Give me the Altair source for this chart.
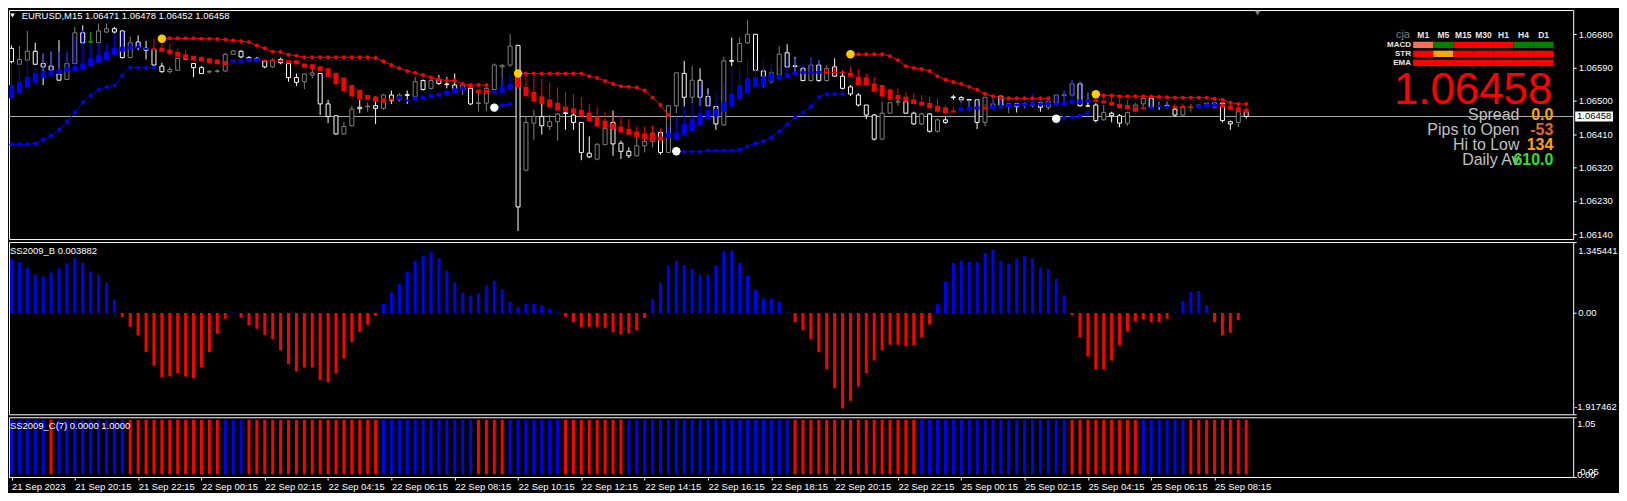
import altair as alt
import pandas as pd
import numpy as np

FONT = "Liberation Sans"
SYMBOL = "EURUSD,M15"

# ---------------- data ----------------
TIME_LABELS = ["21 Sep 2023", "21 Sep 20:15", "21 Sep 22:15", "22 Sep 00:15", "22 Sep 02:15",
               "22 Sep 04:15", "22 Sep 06:15", "22 Sep 08:15", "22 Sep 10:15", "22 Sep 12:15",
               "22 Sep 14:15", "22 Sep 16:15", "22 Sep 18:15", "22 Sep 20:15", "22 Sep 22:15",
               "25 Sep 00:15", "25 Sep 02:15", "25 Sep 04:15", "25 Sep 06:15", "25 Sep 08:15"]
BARS_PER_LABEL = 8
PRICE_TICKS = [1.06140, 1.06230, 1.06320, 1.06410, 1.06500, 1.06590, 1.06680]
PRICE_RANGE = [1.061272, 1.067454]
HIST_MAX = 1.345441
HIST_MIN = -1.917462
C_MAX = 1.05
C_MIN = -0.05

OPEN = [1.06642, 1.06599, 1.06610, 1.06634, 1.06601, 1.06594, 1.06573, 1.06558, 1.06601, 1.06684,
        1.06659, 1.06657, 1.06686, 1.06695, 1.06689, 1.06617, 1.06659, 1.06642, 1.06639, 1.06594,
        1.06579, 1.06583, 1.06612, 1.06601, 1.06590, 1.06578, 1.06580, 1.06581, 1.06626, 1.06634,
        1.06617, 1.06615, 1.06608, 1.06592, 1.06612, 1.06601, 1.06563, 1.06552, 1.06570, 1.06574,
        1.06492, 1.06460, 1.06411, 1.06433, 1.06483, 1.06484, 1.06487, 1.06480, 1.06516, 1.06503,
        1.06517, 1.06512, 1.06555, 1.06534, 1.06558, 1.06546, 1.06543, 1.06531, 1.06534, 1.06493,
        1.06494, 1.06531, 1.06592, 1.06597, 1.06650, 1.06313, 1.06440, 1.06458, 1.06431, 1.06444,
        1.06468, 1.06462, 1.06442, 1.06359, 1.06343, 1.06382, 1.06442, 1.06386, 1.06364, 1.06352,
        1.06379, 1.06391, 1.06415, 1.06361, 1.06487, 1.06574, 1.06510, 1.06556, 1.06512, 1.06485,
        1.06435, 1.06609, 1.06606, 1.06657, 1.06680, 1.06581, 1.06552, 1.06570, 1.06630, 1.06595,
        1.06588, 1.06555, 1.06597, 1.06555, 1.06592, 1.06567, 1.06538, 1.06516, 1.06489, 1.06462,
        1.06397, 1.06467, 1.06497, 1.06498, 1.06467, 1.06438, 1.06465, 1.06418, 1.06449, 1.06511,
        1.06509, 1.06504, 1.06503, 1.06442, 1.06485, 1.06513, 1.06485, 1.06492, 1.06491, 1.06487,
        1.06495, 1.06483, 1.06495, 1.06515, 1.06516, 1.06546, 1.06487, 1.06489, 1.06449, 1.06467,
        1.06460, 1.06440, 1.06476, 1.06492, 1.06507, 1.06487, 1.06488, 1.06478, 1.06462, 1.06483,
        1.06483, 1.06485, 1.06483, 1.06494, 1.06444, 1.06442, 1.06471]
HIGH = [1.06650, 1.06648, 1.06689, 1.06657, 1.06628, 1.06633, 1.06664, 1.06633, 1.06700, 1.06704,
        1.06686, 1.06709, 1.06709, 1.06700, 1.06691, 1.06673, 1.06677, 1.06662, 1.06639, 1.06603,
        1.06592, 1.06617, 1.06624, 1.06601, 1.06594, 1.06583, 1.06585, 1.06630, 1.06637, 1.06637,
        1.06621, 1.06619, 1.06610, 1.06615, 1.06617, 1.06603, 1.06574, 1.06573, 1.06592, 1.06574,
        1.06503, 1.06460, 1.06444, 1.06487, 1.06503, 1.06495, 1.06512, 1.06519, 1.06528, 1.06521,
        1.06528, 1.06565, 1.06558, 1.06561, 1.06570, 1.06565, 1.06574, 1.06552, 1.06537, 1.06530,
        1.06538, 1.06601, 1.06599, 1.06680, 1.06650, 1.06458, 1.06476, 1.06492, 1.06462, 1.06467,
        1.06471, 1.06467, 1.06442, 1.06404, 1.06386, 1.06444, 1.06474, 1.06393, 1.06375, 1.06404,
        1.06411, 1.06431, 1.06418, 1.06489, 1.06576, 1.06608, 1.06594, 1.06588, 1.06534, 1.06487,
        1.06619, 1.06671, 1.06671, 1.06718, 1.06680, 1.06583, 1.06583, 1.06648, 1.06653, 1.06619,
        1.06592, 1.06617, 1.06610, 1.06597, 1.06615, 1.06581, 1.06543, 1.06521, 1.06489, 1.06465,
        1.06498, 1.06498, 1.06507, 1.06498, 1.06471, 1.06469, 1.06467, 1.06453, 1.06456, 1.06516,
        1.06513, 1.06504, 1.06503, 1.06510, 1.06507, 1.06513, 1.06495, 1.06495, 1.06498, 1.06519,
        1.06498, 1.06503, 1.06516, 1.06528, 1.06556, 1.06552, 1.06522, 1.06494, 1.06489, 1.06471,
        1.06465, 1.06471, 1.06495, 1.06512, 1.06512, 1.06498, 1.06498, 1.06483, 1.06487, 1.06492,
        1.06492, 1.06495, 1.06498, 1.06495, 1.06447, 1.06476, 1.06478]
LOW = [1.06601, 1.06597, 1.06608, 1.06597, 1.06543, 1.06581, 1.06555, 1.06556, 1.06599, 1.06655,
       1.06657, 1.06655, 1.06684, 1.06682, 1.06615, 1.06615, 1.06637, 1.06612, 1.06594, 1.06576,
       1.06574, 1.06581, 1.06610, 1.06564, 1.06573, 1.06574, 1.06576, 1.06579, 1.06624, 1.06615,
       1.06606, 1.06606, 1.06588, 1.06590, 1.06599, 1.06552, 1.06540, 1.06532, 1.06561, 1.06462,
       1.06440, 1.06409, 1.06409, 1.06431, 1.06467, 1.06471, 1.06438, 1.06476, 1.06492, 1.06498,
       1.06492, 1.06507, 1.06528, 1.06531, 1.06543, 1.06534, 1.06528, 1.06516, 1.06489, 1.06471,
       1.06473, 1.06530, 1.06534, 1.06592, 1.06149, 1.06310, 1.06395, 1.06409, 1.06422, 1.06393,
       1.06422, 1.06422, 1.06340, 1.06346, 1.06340, 1.06382, 1.06352, 1.06343, 1.06346, 1.06350,
       1.06361, 1.06375, 1.06355, 1.06359, 1.06467, 1.06485, 1.06494, 1.06487, 1.06485, 1.06422,
       1.06433, 1.06594, 1.06606, 1.06655, 1.06581, 1.06537, 1.06547, 1.06567, 1.06590, 1.06579,
       1.06555, 1.06552, 1.06552, 1.06552, 1.06565, 1.06531, 1.06513, 1.06485, 1.06451, 1.06393,
       1.06395, 1.06465, 1.06487, 1.06465, 1.06435, 1.06435, 1.06415, 1.06415, 1.06438, 1.06503,
       1.06495, 1.06476, 1.06424, 1.06431, 1.06480, 1.06485, 1.06467, 1.06469, 1.06480, 1.06483,
       1.06471, 1.06476, 1.06487, 1.06495, 1.06512, 1.06485, 1.06483, 1.06442, 1.06447, 1.06442,
       1.06429, 1.06433, 1.06471, 1.06483, 1.06480, 1.06476, 1.06480, 1.06458, 1.06460, 1.06471,
       1.06480, 1.06483, 1.06480, 1.06442, 1.06422, 1.06429, 1.06452]
CLOSE = [1.06606, 1.06612, 1.06634, 1.06599, 1.06592, 1.06583, 1.06556, 1.06601, 1.06684, 1.06657,
         1.06659, 1.06689, 1.06695, 1.06686, 1.06617, 1.06657, 1.06644, 1.06637, 1.06597, 1.06579,
         1.06585, 1.06615, 1.06619, 1.06590, 1.06574, 1.06580, 1.06581, 1.06626, 1.06635, 1.06619,
         1.06612, 1.06610, 1.06592, 1.06610, 1.06603, 1.06563, 1.06550, 1.06573, 1.06576, 1.06492,
         1.06458, 1.06411, 1.06431, 1.06478, 1.06479, 1.06486, 1.06480, 1.06516, 1.06501, 1.06516,
         1.06515, 1.06552, 1.06531, 1.06555, 1.06547, 1.06544, 1.06531, 1.06543, 1.06492, 1.06495,
         1.06534, 1.06597, 1.06596, 1.06648, 1.06214, 1.06442, 1.06458, 1.06433, 1.06444, 1.06465,
         1.06466, 1.06442, 1.06361, 1.06349, 1.06383, 1.06426, 1.06384, 1.06364, 1.06352, 1.06379,
         1.06391, 1.06413, 1.06361, 1.06487, 1.06576, 1.06510, 1.06556, 1.06510, 1.06487, 1.06438,
         1.06608, 1.06607, 1.06655, 1.06680, 1.06583, 1.06565, 1.06576, 1.06626, 1.06592, 1.06593,
         1.06555, 1.06597, 1.06555, 1.06588, 1.06567, 1.06534, 1.06519, 1.06489, 1.06462, 1.06397,
         1.06467, 1.06495, 1.06499, 1.06467, 1.06438, 1.06465, 1.06418, 1.06449, 1.06442, 1.06509,
         1.06503, 1.06502, 1.06442, 1.06510, 1.06492, 1.06487, 1.06492, 1.06485, 1.06493, 1.06494,
         1.06483, 1.06498, 1.06516, 1.06517, 1.06546, 1.06487, 1.06486, 1.06447, 1.06469, 1.06460,
         1.06440, 1.06469, 1.06489, 1.06507, 1.06483, 1.06486, 1.06485, 1.06462, 1.06483, 1.06483,
         1.06489, 1.06494, 1.06495, 1.06447, 1.06438, 1.06471, 1.06458]

HA_OPEN = [1.06507, 1.06522, 1.06537, 1.06549, 1.06561, 1.06567, 1.06573, 1.06579, 1.06581, 1.06585,
           1.06594, 1.06603, 1.06610, 1.06624, 1.06633, 1.06639, 1.06642, 1.06638, 1.06642, 1.06644,
           1.06639, 1.06633, 1.06626, 1.06622, 1.06619, 1.06615, 1.06612, 1.06608, 1.06603, 1.06603,
           1.06606, 1.06606, 1.06612, 1.06612, 1.06610, 1.06610, 1.06610, 1.06601, 1.06599, 1.06594,
           1.06588, 1.06576, 1.06563, 1.06543, 1.06530, 1.06516, 1.06512, 1.06507, 1.06507, 1.06503,
           1.06498, 1.06501, 1.06504, 1.06507, 1.06512, 1.06516, 1.06521, 1.06528, 1.06543, 1.06531,
           1.06530, 1.06521, 1.06522, 1.06530, 1.06570, 1.06538, 1.06525, 1.06513, 1.06504, 1.06495,
           1.06485, 1.06480, 1.06476, 1.06469, 1.06458, 1.06447, 1.06438, 1.06431, 1.06425, 1.06418,
           1.06413, 1.06411, 1.06404, 1.06400, 1.06397, 1.06406, 1.06418, 1.06435, 1.06451, 1.06458,
           1.06471, 1.06485, 1.06504, 1.06521, 1.06538, 1.06538, 1.06552, 1.06558, 1.06561, 1.06570,
           1.06573, 1.06573, 1.06573, 1.06579, 1.06579, 1.06579, 1.06576, 1.06565, 1.06564, 1.06547,
           1.06543, 1.06531, 1.06516, 1.06512, 1.06504, 1.06498, 1.06495, 1.06487, 1.06483, 1.06474,
           1.06472, 1.06474, 1.06476, 1.06483, 1.06478, 1.06480, 1.06483, 1.06485, 1.06485, 1.06487,
           1.06487, 1.06489, 1.06489, 1.06489, 1.06492, 1.06492, 1.06495, 1.06504, 1.06501, 1.06498,
           1.06492, 1.06489, 1.06483, 1.06483, 1.06478, 1.06483, 1.06480, 1.06487, 1.06487, 1.06485,
           1.06480, 1.06483, 1.06483, 1.06492, 1.06487, 1.06483, 1.06478]
HA_CLOSE = [1.06543, 1.06552, 1.06565, 1.06576, 1.06581, 1.06583, 1.06586, 1.06590, 1.06594, 1.06601,
            1.06615, 1.06624, 1.06633, 1.06643, 1.06646, 1.06648, 1.06648, 1.06643, 1.06637, 1.06633,
            1.06626, 1.06619, 1.06613, 1.06609, 1.06607, 1.06601, 1.06599, 1.06597, 1.06612, 1.06612,
            1.06615, 1.06615, 1.06607, 1.06607, 1.06606, 1.06601, 1.06599, 1.06590, 1.06586, 1.06581,
            1.06565, 1.06545, 1.06527, 1.06512, 1.06504, 1.06503, 1.06498, 1.06495, 1.06501, 1.06512,
            1.06504, 1.06512, 1.06514, 1.06518, 1.06522, 1.06528, 1.06534, 1.06537, 1.06534, 1.06522,
            1.06521, 1.06528, 1.06538, 1.06547, 1.06537, 1.06513, 1.06498, 1.06492, 1.06483, 1.06474,
            1.06471, 1.06467, 1.06458, 1.06446, 1.06431, 1.06426, 1.06424, 1.06415, 1.06409, 1.06402,
            1.06397, 1.06393, 1.06393, 1.06413, 1.06415, 1.06438, 1.06451, 1.06467, 1.06476, 1.06478,
            1.06498, 1.06519, 1.06543, 1.06561, 1.06564, 1.06567, 1.06574, 1.06570, 1.06576, 1.06579,
            1.06581, 1.06579, 1.06581, 1.06574, 1.06574, 1.06574, 1.06565, 1.06543, 1.06543, 1.06525,
            1.06512, 1.06503, 1.06503, 1.06498, 1.06492, 1.06487, 1.06480, 1.06471, 1.06467, 1.06469,
            1.06483, 1.06485, 1.06485, 1.06478, 1.06487, 1.06489, 1.06492, 1.06492, 1.06494, 1.06495,
            1.06495, 1.06495, 1.06495, 1.06498, 1.06503, 1.06504, 1.06504, 1.06498, 1.06494, 1.06487,
            1.06480, 1.06478, 1.06471, 1.06478, 1.06485, 1.06489, 1.06487, 1.06480, 1.06480, 1.06480,
            1.06489, 1.06492, 1.06492, 1.06483, 1.06476, 1.06471, 1.06469]
HA_HIGH = [1.06601, 1.06610, 1.06610, 1.06597, 1.06628, 1.06633, 1.06633, 1.06633, 1.06673, 1.06691,
           1.06657, 1.06655, 1.06655, 1.06682, 1.06689, 1.06657, 1.06659, 1.06643, 1.06668, 1.06655,
           1.06653, 1.06642, 1.06639, 1.06622, 1.06619, 1.06615, 1.06612, 1.06608, 1.06612, 1.06612,
           1.06615, 1.06615, 1.06612, 1.06612, 1.06612, 1.06610, 1.06610, 1.06601, 1.06599, 1.06594,
           1.06588, 1.06576, 1.06563, 1.06543, 1.06530, 1.06516, 1.06512, 1.06507, 1.06507, 1.06512,
           1.06504, 1.06512, 1.06514, 1.06518, 1.06522, 1.06528, 1.06534, 1.06552, 1.06543, 1.06531,
           1.06530, 1.06528, 1.06561, 1.06574, 1.06570, 1.06574, 1.06565, 1.06561, 1.06549, 1.06537,
           1.06525, 1.06519, 1.06510, 1.06492, 1.06483, 1.06471, 1.06460, 1.06460, 1.06451, 1.06431,
           1.06431, 1.06433, 1.06426, 1.06431, 1.06458, 1.06485, 1.06494, 1.06547, 1.06519, 1.06521,
           1.06547, 1.06592, 1.06592, 1.06610, 1.06610, 1.06610, 1.06601, 1.06592, 1.06619, 1.06615,
           1.06601, 1.06615, 1.06610, 1.06592, 1.06592, 1.06583, 1.06592, 1.06585, 1.06574, 1.06565,
           1.06543, 1.06534, 1.06534, 1.06525, 1.06522, 1.06516, 1.06512, 1.06507, 1.06489, 1.06485,
           1.06503, 1.06503, 1.06503, 1.06492, 1.06507, 1.06513, 1.06495, 1.06495, 1.06498, 1.06519,
           1.06498, 1.06503, 1.06516, 1.06528, 1.06556, 1.06552, 1.06522, 1.06516, 1.06516, 1.06512,
           1.06507, 1.06503, 1.06495, 1.06492, 1.06507, 1.06498, 1.06498, 1.06492, 1.06492, 1.06492,
           1.06492, 1.06495, 1.06498, 1.06495, 1.06492, 1.06489, 1.06485]

STOP = [1.06383, 1.06383, 1.06383, 1.06385, 1.06395, 1.06407, 1.06422, 1.06444, 1.06469, 1.06496,
        1.06515, 1.06530, 1.06538, 1.06542, 1.06569, 1.06590, 1.06590, 1.06590, 1.06590, 1.06668,
        1.06669, 1.06669, 1.06669, 1.06669, 1.06668, 1.06668, 1.06667, 1.06666, 1.06663, 1.06661,
        1.06659, 1.06650, 1.06642, 1.06633, 1.06632, 1.06625, 1.06622, 1.06618, 1.06618, 1.06618,
        1.06618, 1.06618, 1.06618, 1.06618, 1.06618, 1.06618, 1.06616, 1.06607, 1.06597, 1.06588,
        1.06581, 1.06576, 1.06570, 1.06563, 1.06558, 1.06555, 1.06555, 1.06546, 1.06543, 1.06543,
        1.06543, 1.06482, 1.06489, 1.06492, 1.06574, 1.06574, 1.06574, 1.06574, 1.06574, 1.06574,
        1.06574, 1.06574, 1.06574, 1.06567, 1.06562, 1.06554, 1.06546, 1.06540, 1.06538, 1.06536,
        1.06528, 1.06509, 1.06489, 1.06462, 1.06364, 1.06363, 1.06363, 1.06363, 1.06366, 1.06366,
        1.06366, 1.06366, 1.06368, 1.06377, 1.06386, 1.06392, 1.06402, 1.06418, 1.06437, 1.06456,
        1.06469, 1.06485, 1.06511, 1.06519, 1.06519, 1.06519, 1.06626, 1.06626, 1.06626, 1.06626,
        1.06626, 1.06621, 1.06610, 1.06594, 1.06589, 1.06586, 1.06581, 1.06567, 1.06558, 1.06551,
        1.06546, 1.06538, 1.06530, 1.06519, 1.06513, 1.06509, 1.06507, 1.06507, 1.06507, 1.06507,
        1.06507, 1.06507, 1.06452, 1.06455, 1.06457, 1.06460, 1.06468, 1.06518, 1.06515, 1.06515,
        1.06513, 1.06513, 1.06513, 1.06513, 1.06512, 1.06511, 1.06510, 1.06509, 1.06509, 1.06509,
        1.06509, 1.06509, 1.06506, 1.06503, 1.06495, 1.06492, 1.06492]
# trailing-stop side per bar, as runs: (side, number of bars)
STOP_RUNS = [("B", 19), ("R", 42), ("B", 3), ("R", 20), ("B", 22), ("R", 26), ("B", 5), ("R", 20)]

HIST = [1.024, 0.961, 0.865, 0.725, 0.693, 0.770, 0.846, 0.941, 1.037, 0.948,
        0.789, 0.719, 0.579, 0.248, -0.070, -0.261, -0.426, -0.738, -0.999, -1.209,
        -1.196, -1.139, -1.202, -1.234, -1.024, -0.738, -0.394, -0.108, 0.010, -0.089,
        -0.235, -0.299, -0.413, -0.490, -0.706, -0.967, -1.101, -1.031, -1.031, -1.272,
        -1.310, -1.145, -0.859, -0.547, -0.356, -0.223, -0.057, 0.178, 0.388, 0.547,
        0.789, 0.992, 1.088, 1.151, 1.037, 0.802, 0.579, 0.388, 0.324, 0.375,
        0.528, 0.611, 0.452, 0.216, 0.115, 0.178, 0.178, 0.146, 0.083, 0.013,
        -0.070, -0.172, -0.261, -0.261, -0.261, -0.280, -0.363, -0.407, -0.388, -0.331,
        -0.095, 0.261, 0.573, 0.897, 0.992, 0.910, 0.840, 0.725, 0.725, 0.897,
        1.164, 1.183, 0.948, 0.706, 0.439, 0.274, 0.274, 0.210, 0.013, -0.172,
        -0.324, -0.490, -0.744, -1.062, -1.425, -1.807, -1.660, -1.393, -1.139, -0.897,
        -0.706, -0.598, -0.598, -0.630, -0.611, -0.452, -0.216, 0.165, 0.592, 0.948,
        0.992, 0.973, 0.973, 1.139, 1.202, 0.992, 0.935, 1.024, 1.088, 1.037,
        0.865, 0.833, 0.643, 0.337, -0.038, -0.452, -0.821, -1.062, -1.062, -0.897,
        -0.604, -0.344, -0.153, -0.121, -0.172, -0.172, -0.108, 0.010, 0.229, 0.401,
        0.420, 0.146, -0.172, -0.420, -0.375, -0.134, 0.005]
# SS2009_C colour per bar, as runs
TREND_RUNS = [("B", 5), ("R", 1), ("B", 9), ("R", 12), ("B", 3), ("R", 17), ("B", 12), ("R", 4),
              ("B", 7), ("R", 8), ("B", 21), ("R", 16), ("B", 19), ("R", 9), ("B", 6), ("R", 8)]

INFO_TF = ["M1", "M5", "M15", "M30", "H1", "H4", "D1"]
INFO_ROWS = ["MACD", "STR", "EMA"]
INFO_COLORS = {
    "MACD": ["#fa6e5a", "#008000", "#ff0000", "#ff0000", "#ff0000", "#008000", "#008000"],
    "STR": ["#ff0000", "#ffa500", "#ff0000", "#ff0000", "#ff0000", "#ff0000", "#ff0000"],
    "EMA": ["#ff0000"] * 7,
}
STATS = [("Spread", "0.0", "#ffa500"), ("Pips to Open", "-53", "#e8642a"),
         ("Hi to Low", "134", "#ffa500"), ("Daily Av", "610.0", "#2fe02f")]

# ---------------- tables ----------------
n = len(OPEN)
for arr in (HIGH, LOW, CLOSE, HA_OPEN, HA_CLOSE, HA_HIGH, STOP, HIST):
    assert len(arr) == n, len(arr)
STOP_SIDE = "".join(s * k for s, k in STOP_RUNS)
TREND = "".join(s * k for s, k in TREND_RUNS)
assert len(STOP_SIDE) == n and len(TREND) == n

BLUE, RED, WHITE, GRAY, GREEN = "#0000ff", "#ff0000", "#ffffff", "#808080", "#00c000"

df = pd.DataFrame({"idx": np.arange(n), "o": OPEN, "h": HIGH, "l": LOW, "c": CLOSE,
                   "ha_o": HA_OPEN, "ha_c": HA_CLOSE, "ha_h": HA_HIGH, "stop": STOP})
df["btop"] = df[["o", "c"]].max(axis=1)
df["bbot"] = df[["o", "c"]].min(axis=1)
df["ccol"] = np.where(df.o > df.c, WHITE, np.where(df.o < df.c, GRAY, GREEN))
df["hatop"] = df[["ha_o", "ha_c"]].max(axis=1)
df["habot"] = df[["ha_o", "ha_c"]].min(axis=1)
df["hacol"] = np.where(df.ha_c >= df.ha_o, BLUE, RED)
df["side"] = list(STOP_SIDE)
newseg = df.side != df.side.shift()
df["seg"] = newseg.cumsum()
df["scol"] = np.where(df.side == "B", BLUE, RED)
starts = df[newseg & (df.idx > 0)].copy()
starts["startcol"] = np.where(starts.side == "R", "#ffcc00", WHITE)

hdf = pd.DataFrame({"idx": np.arange(n), "v": HIST, "z": 0.0})
hdf["col"] = np.where(hdf.v >= 0, BLUE, RED)
cdf = pd.DataFrame({"idx": np.arange(n), "one": 1.0, "z": 0.0,
                    "col": [BLUE if ch == "B" else RED for ch in TREND]})
cur_df = pd.DataFrame({"p": [CLOSE[-1]], "t": [f"{CLOSE[-1]:.5f}"]})
tdf = pd.DataFrame([{"tf": tf, "row": r, "col": INFO_COLORS[r][k]}
                    for r in INFO_ROWS for k, tf in enumerate(INFO_TF)])

# ---------------- layout ----------------
W = 1571
H1, H2, H3 = 230, 173, 60
XS = alt.Scale(domain=[0.3125, 0.3125 + W / 8], nice=False, zero=False)
YS1 = alt.Scale(domain=PRICE_RANGE, nice=False, zero=False)
YAX1 = alt.Axis(orient="right", values=PRICE_TICKS, format=".5f", title=None, grid=False,
                domain=False, tickSize=3, labelPadding=2)


def xe():
    return alt.X("idx:Q", scale=XS, axis=None)


def y1(f):
    return alt.Y(f"{f}:Q", scale=YS1, axis=YAX1)


def note(text, x, y, **kw):
    kw.setdefault("font", FONT)
    return alt.Chart(pd.DataFrame({"t": [text]})).mark_text(**kw).encode(
        text="t:N", x=alt.value(x), y=alt.value(y))


c = alt.Chart(df)
price_line = alt.Chart(cur_df).mark_rule(color="#a8a8a8", strokeWidth=1).encode(y=y1("p"))
wick_up = c.mark_rule(strokeWidth=1, clip=True).encode(
    x=xe(), y=y1("h"), y2="btop", color=alt.Color("ccol:N", scale=None))
wick_dn = c.mark_rule(strokeWidth=1, clip=True).encode(
    x=xe(), y=y1("bbot"), y2="l", color=alt.Color("ccol:N", scale=None))
body = c.mark_bar(size=4, fill="black", strokeWidth=1, clip=True).encode(
    x=xe(), y=y1("btop"), y2="bbot", stroke=alt.Stroke("ccol:N", scale=None))
ha_wick = c.mark_rule(strokeWidth=1, clip=True).encode(
    x=xe(), y=y1("ha_h"), y2="hatop", color=alt.Color("hacol:N", scale=None))
ha_body = c.mark_bar(size=5, clip=True).encode(
    x=xe(), y=y1("hatop"), y2="habot", color=alt.Color("hacol:N", scale=None))
stop_line = c.mark_line(strokeWidth=1, clip=True).encode(
    x=xe(), y=y1("stop"), detail="seg:N", color=alt.Color("scol:N", scale=None))
stop_dots = c.mark_circle(size=16, opacity=1, clip=True).encode(
    x=xe(), y=y1("stop"), color=alt.Color("scol:N", scale=None))
start_dots = alt.Chart(starts).mark_circle(size=72, opacity=1, clip=True).encode(
    x=xe(), y=y1("stop"), color=alt.Color("startcol:N", scale=None))

BOX = "M-1,-0.263L1,-0.263L1,0.263L-1,0.263Z"
cur_box = alt.Chart(cur_df).mark_point(shape=BOX, size=1444, filled=True, color="white",
                                       opacity=1, strokeWidth=0).encode(x=alt.value(W + 21), y=y1("p"))
cur_txt = alt.Chart(cur_df).mark_text(color="black", fontSize=9.5, font=FONT).encode(
    x=alt.value(W + 21), y=y1("p"), text="t:N")

one = pd.DataFrame({"a": [0]})
tri = alt.Chart(one).mark_point(shape="triangle-down", filled=True, color="white", size=22,
                                opacity=1).encode(x=alt.value(3.5), y=alt.value(5.5))
shift_mark = alt.Chart(one).mark_point(shape="triangle-down", filled=True, color="#808080",
                                       size=30, opacity=1).encode(x=alt.value(1254), y=alt.value(3))
title = note(f"{SYMBOL}  {OPEN[-1]:.5f} {HIGH[-1]:.5f} {LOW[-1]:.5f} {CLOSE[-1]:.5f}",
             12.7, 5.8, align="left", baseline="middle", color="white", fontSize=9.5)

info = [note("cja", 1407, 25, align="right", baseline="middle", color="#808080", fontSize=11),
        note(f"{CLOSE[-1]:.5f}", 1550, 94.5, align="right", baseline="alphabetic",
             color="#ff0000", fontSize=44)]
for k, (lab, val, col) in enumerate(STATS):
    yy = [110.3, 125.3, 140.3, 155.3][k]
    info.append(note(lab, 1517, yy, align="right", baseline="alphabetic", color="#c0c0c0", fontSize=16))
    info.append(note(val, 1551, yy, align="right", baseline="alphabetic", color=col,
                     fontSize=16, fontWeight="bold"))

core = alt.layer(price_line, wick_up, wick_dn, body, ha_wick, ha_body, stop_line, stop_dots,
                 start_dots, cur_box, cur_txt, tri, shift_mark, title, *info)

TX = alt.Scale(domain=INFO_TF, range=[1410.3, 1551.3], paddingInner=0, paddingOuter=0)
TY = alt.Scale(domain=INFO_ROWS, range=[31.8, 56.2], paddingInner=0.29, paddingOuter=0)
cells = alt.Chart(tdf).mark_rect().encode(
    x=alt.X("tf:O", scale=TX, axis=None), y=alt.Y("row:O", scale=TY, axis=None),
    color=alt.Color("col:N", scale=None))
tf_lbl = alt.Chart(pd.DataFrame({"tf": INFO_TF})).mark_text(
    fontSize=8.5, fontWeight="bold", color="#e8e8e8", font=FONT).encode(
    x=alt.X("tf:O", scale=TX, axis=None), y=alt.value(25), text="tf:N")
row_lbl = alt.Chart(pd.DataFrame({"row": INFO_ROWS})).mark_text(
    fontSize=8, fontWeight="bold", color="#e8e8e8", align="right", font=FONT).encode(
    x=alt.value(1408), y=alt.Y("row:O", scale=TY, axis=None), text="row:N")
table = alt.layer(cells, tf_lbl, row_lbl)

main = alt.layer(core, table).resolve_scale(x="independent", y="independent").properties(
    width=W, height=H1)

# ---------------- SS2009_B histogram ----------------
YS2 = alt.Scale(domain=[HIST_MIN, HIST_MAX], nice=False, zero=False)
YAX2 = alt.Axis(orient="right", values=[HIST_MAX, 0, HIST_MIN], labels=False, tickSize=3,
                title=None, grid=False, domain=False)


def ylab(val, text, scale, axis, x, baseline, dy):
    return alt.Chart(pd.DataFrame({"v": [val], "t": [text]})).mark_text(
        align="left", baseline=baseline, dy=dy, color="white", fontSize=9.5, font=FONT).encode(
        x=alt.value(x), y=alt.Y("v:Q", scale=scale, axis=axis), text="t:N")


hb = alt.Chart(hdf).mark_bar(size=3, clip=True).encode(
    x=xe(), y=alt.Y("v:Q", scale=YS2, axis=YAX2), y2="z", color=alt.Color("col:N", scale=None))
hist = alt.layer(
    hb,
    ylab(HIST_MAX, f"{HIST_MAX:.6f}", YS2, YAX2, W + 5, "top", 4),
    ylab(0.0, "0.00", YS2, YAX2, W + 5, "middle", 0),
    ylab(HIST_MIN, f"{HIST_MIN:.6f}", YS2, YAX2, W + 1, "bottom", -2),
    note("SS2009_B 0.003882", 1, 9, align="left", baseline="middle", color="white", fontSize=9.5),
).properties(width=W, height=H2)

# ---------------- SS2009_C colour bars ----------------
YS3 = alt.Scale(domain=[C_MIN, C_MAX], nice=False, zero=False)
YAX3 = alt.Axis(orient="right", values=[C_MAX, C_MIN], labels=False, tickSize=3, title=None,
                grid=False, domain=False)
EXPR = "[" + ",".join("'" + s + "'" for s in TIME_LABELS) + "][round(datum.value / %d)]" % BARS_PER_LABEL
XAX3 = alt.Axis(values=[k * BARS_PER_LABEL for k in range(len(TIME_LABELS))], labelExpr=EXPR,
                labelAlign="left", labelBaseline="top", labelPadding=2, tickSize=3,
                labelOverlap=False, labelFlush=False, title=None, grid=False, domain=False,
                orient="bottom")
cb = alt.Chart(cdf).mark_bar(size=3, clip=True).encode(
    x=alt.X("idx:Q", scale=XS, axis=XAX3), y=alt.Y("one:Q", scale=YS3, axis=YAX3), y2="z",
    color=alt.Color("col:N", scale=None))
cpanel = alt.layer(
    cb,
    ylab(C_MAX, f"{C_MAX:.2f}", YS3, YAX3, W + 4, "top", 1.5),
    ylab(0.0, "-0.05", YS3, YAX3, W + 4, "middle", -2.5),
    ylab(0.0, "0.00", YS3, YAX3, W + 4, "middle", 0.5),
    note("SS2009_C(7) 0.0000 1.0000", 1, 8.7, align="left", baseline="middle", color="white",
         fontSize=9.5),
).properties(width=W, height=H3)

chart = alt.vconcat(main, hist, cpanel, spacing=3, bounds="flush").resolve_scale(
    x="independent", y="independent").properties(
    padding=0, background="black").configure_view(
    stroke="white", strokeWidth=1).configure_axis(
    labelColor="white", tickColor="white", labelFont=FONT, labelFontSize=9.5, tickWidth=1)

chart.save("out.html", embed_options={"renderer": "svg", "actions": False})
